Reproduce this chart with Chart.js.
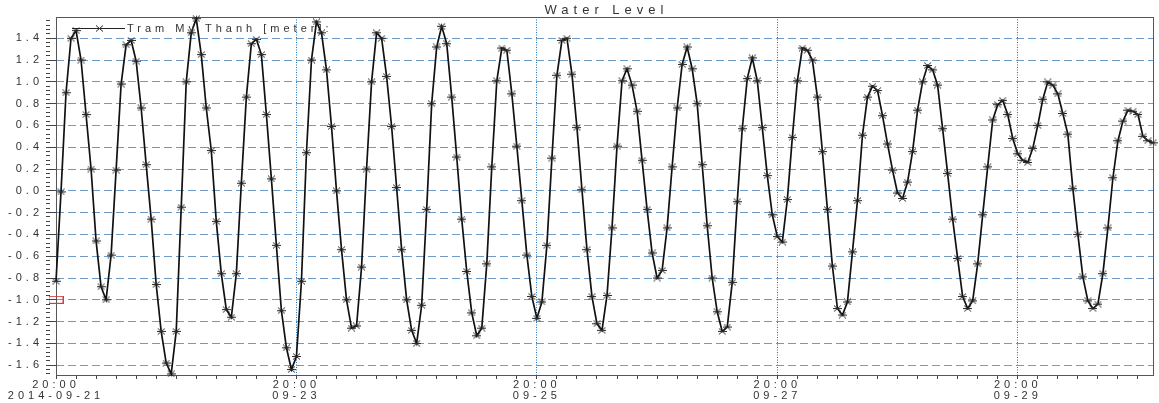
<!DOCTYPE html>
<html>
<head>
<meta charset="utf-8">
<script src="https://cdn.jsdelivr.net/npm/chart.js@4.4.0/dist/chart.umd.min.js"></script>
<style>
  html, body { margin: 0; padding: 0; background: #fff; }
  #wrap { width: 1159px; height: 403px; }
</style>
</head>
<body>
<div id="wrap"><canvas id="chart" width="1159" height="403"></canvas></div>
<script>
// chart texts
const chartTitle = 'Water Level';
const seriesName = 'Tram My Thanh [meter]:';
const tickTime = '20:00';
// one label every 48 hours, starting 2014-09-21 20:00
const tickDates = ['2014-09-21', '09-23', '09-25', '09-27', '09-29'];

// hourly water level [m], first value at 2014-09-21 20:00
const waterLevel = [
  -0.83, -0.01, 0.90, 1.40, 1.47, 1.20, 0.70, 0.20, -0.46, -0.88, -1.00, -0.59,
  0.19, 0.98, 1.34, 1.38, 1.19, 0.76, 0.24, -0.26, -0.86, -1.29, -1.58, -1.68,
  -1.29, -0.15, 1.00, 1.45, 1.58, 1.25, 0.76, 0.37, -0.28, -0.76, -1.09, -1.16,
  -0.76, 0.07, 0.86, 1.35, 1.39, 1.25, 0.70, 0.11, -0.50, -1.10, -1.44, -1.64,
  -1.52, -0.83, 0.35, 1.20, 1.55, 1.45, 1.11, 0.59, 0.00, -0.54, -1.00, -1.26,
  -1.24, -0.70, 0.20, 1.00, 1.45, 1.40, 1.05, 0.59, 0.03, -0.54, -1.00, -1.28,
  -1.40, -1.05, -0.17, 0.80, 1.32, 1.51, 1.35, 0.86, 0.31, -0.26, -0.74, -1.12,
  -1.33, -1.26, -0.67, 0.22, 1.01, 1.31, 1.29, 0.89, 0.41, -0.09, -0.59, -0.97,
  -1.17, -1.02, -0.50, 0.30, 1.06, 1.38, 1.40, 1.07, 0.58, 0.01, -0.54, -0.97,
  -1.22, -1.28, -0.96, -0.34, 0.41, 1.01, 1.12, 0.97, 0.73, 0.28, -0.17, -0.57,
  -0.80, -0.73, -0.34, 0.22, 0.76, 1.16, 1.32, 1.12, 0.80, 0.24, -0.32, -0.80,
  -1.11, -1.29, -1.25, -0.84, -0.10, 0.57, 1.03, 1.22, 1.01, 0.58, 0.14, -0.22,
  -0.42, -0.47, -0.08, 0.49, 1.01, 1.31, 1.29, 1.20, 0.86, 0.36, -0.17, -0.69,
  -1.08, -1.14, -1.02, -0.56, -0.09, 0.51, 0.86, 0.96, 0.92, 0.69, 0.43, 0.19,
  -0.02, -0.07, 0.08, 0.36, 0.74, 1.00, 1.15, 1.11, 0.97, 0.57, 0.16, -0.26,
  -0.62, -0.97, -1.08, -1.01, -0.67, -0.22, 0.22, 0.65, 0.79, 0.83, 0.70, 0.48,
  0.34, 0.28, 0.26, 0.39, 0.60, 0.84, 1.00, 0.97, 0.89, 0.71, 0.52, 0.02,
  -0.40, -0.79, -1.01, -1.08, -1.04, -0.76, -0.34, 0.12, 0.46, 0.64, 0.74, 0.73,
  0.70, 0.50, 0.46, 0.44
];

// red box on the y axis
const refLevel = -1.0;

// axis range
const yMin = -1.69;
const yMax = 1.595;

const fontFamily = '"Liberation Sans", Arial, sans-serif';

// marker like the original: flat asterisk
function makeStar() {
  const c = document.createElement('canvas');
  c.width = 9; c.height = 7;
  const g = c.getContext('2d');
  g.strokeStyle = '#2a2a2a';
  g.lineWidth = 1;
  g.beginPath();
  g.moveTo(0, 3.5); g.lineTo(9, 3.5);
  g.moveTo(1, 0.5); g.lineTo(8, 6.5);
  g.moveTo(1, 6.5); g.lineTo(8, 0.5);
  g.stroke();
  return c;
}

function makeBox() {
  const c = document.createElement('canvas');
  c.width = 15; c.height = 8;
  const g = c.getContext('2d');
  g.strokeStyle = '#d23c3c';
  g.lineWidth = 1;
  g.strokeRect(0.5, 0.5, 14, 7);
  return c;
}

const starImg = makeStar();
const boxImg = makeBox();

function isMajor(v) {
  return Math.abs(v / 0.2 - Math.round(v / 0.2)) < 1e-6;
}

// frame, title and legend drawn around the chart area
const decorations = {
  id: 'decorations',
  beforeDraw(chart) {
    chart.ctx.letterSpacing = '4px';
  },
  beforeDatasetsDraw(chart) {
    const { ctx, chartArea: a } = chart;
    ctx.save();
    ctx.strokeStyle = '#555';
    ctx.lineWidth = 1;
    ctx.strokeRect(a.left + 0.5, a.top + 0.5, a.right - a.left, a.bottom - a.top);
    ctx.restore();
  },
  afterDraw(chart) {
    const { ctx, chartArea: a } = chart;
    ctx.save();
    // title
    ctx.letterSpacing = '5px';
    ctx.font = '13px ' + fontFamily;
    ctx.fillStyle = '#333';
    ctx.textAlign = 'center';
    ctx.textBaseline = 'middle';
    ctx.fillText(chartTitle, (a.left + a.right) / 2 + 2, 10);

    // legend inside the plot
    const ly = a.top + 11;
    ctx.strokeStyle = '#222';
    ctx.lineWidth = 1;
    ctx.beginPath();
    ctx.moveTo(a.left + 16, ly + 0.5);
    ctx.lineTo(a.left + 69, ly + 0.5);
    ctx.stroke();
    ctx.drawImage(starImg, a.left + 39, ly - 3);
    ctx.letterSpacing = '4px';
    ctx.font = '11px ' + fontFamily;
    ctx.textAlign = 'left';
    ctx.fillText(chart.data.datasets[0].label, a.left + 71, ly + 1);
    ctx.restore();
  }
};

const points = waterLevel.map((v, i) => ({ x: i, y: v }));

new Chart(document.getElementById('chart'), {
  type: 'line',
  data: {
    datasets: [
      {
        label: seriesName,
        data: points,
        borderColor: '#111',
        borderWidth: 1.7,
        tension: 0,
        pointStyle: starImg,
        pointRadius: 4,
        clip: false
      },
      {
        label: 'ref',
        data: [{ x: 0, y: refLevel }],
        showLine: false,
        pointStyle: boxImg,
        pointRadius: 5,
        clip: false
      }
    ]
  },
  options: {
    responsive: false,
    animation: false,
    layout: { padding: { top: 17, right: 4, left: 0, bottom: 0 } },
    plugins: {
      legend: { display: false },
      title: { display: false },
      tooltip: { enabled: false }
    },
    scales: {
      x: {
        type: 'linear',
        min: 0,
        max: waterLevel.length - 1,
        afterFit: s => { s.height = 28; },
        ticks: {
          stepSize: 4,
          includeBounds: false,
          autoSkip: false,
          maxRotation: 0,
          padding: 0,
          color: '#333',
          font: { family: fontFamily, size: 11, lineHeight: 1.05 },
          callback: v => (v % 48 === 0 ? [tickTime, tickDates[v / 48]] : '')
        },
        grid: {
          color: c => (c.tick && c.tick.value % 48 === 0 ? '#1f6fb8' : 'rgba(0,0,0,0)'),
          lineWidth: 1,
          tickColor: '#444',
          tickLength: 4,
          tickBorderDash: []
        },
        border: { display: false, dash: [1, 1.5] }
      },
      y: {
        min: yMin,
        max: yMax,
        afterFit: s => { s.width = 56; },
        ticks: {
          stepSize: 0.04,
          includeBounds: false,
          autoSkip: false,
          padding: 3,
          color: '#333',
          font: { family: fontFamily, size: 11 },
          callback: v => (isMajor(v) ? v.toFixed(1) : '')
        },
        grid: {
          color: c => (c.tick && isMajor(c.tick.value) ? '#6f9cc6' : 'rgba(0,0,0,0)'),
          lineWidth: 1,
          tickColor: '#444',
          tickLength: 10,
          tickBorderDash: c => (c.tick && isMajor(c.tick.value) ? [] : [4, 20])
        },
        border: { display: false, dash: [8, 4] }
      }
    }
  },
  plugins: [decorations]
});
</script>
</body>
</html>
